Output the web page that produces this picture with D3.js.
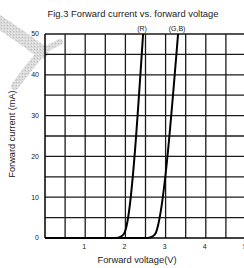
<!DOCTYPE html>
<html>
<head>
<meta charset="utf-8">
<script src="https://cdnjs.cloudflare.com/ajax/libs/d3/7.8.5/d3.min.js"></script>
<style>
  body { margin: 0; background: #fff; }
  text { font-family: "Liberation Sans", Arial, sans-serif; fill: #222; }
</style>
</head>
<body>
<div id="graphic"></div>
<script>
(function() {
  var W = 244, H = 268;
  var margin = { top: 34, left: 45, right: 0, bottom: 30 };

  /*** DATA ***/
  var title = "Fig.3 Forward current vs. forward voltage";
  var xTicks = [1, 2, 3, 4, 5];
  var yTicks = [0, 10, 20, 30, 40, 50];
  var xGrid = [0.5, 1, 1.5, 2, 2.5, 3, 3.5, 4, 4.5];
  var yGrid = [5, 10, 15, 20, 25, 30, 35, 40, 45, 50];
  // [voltage V, current mA]
  var redCurve = [[0, 0], [1.75, 0], [1.9, 0.4], [1.98, 1.3], [2.03, 3], [2.44, 50]];
  var gbCurve = [[0, 0], [2.55, 0], [2.68, 0.4], [2.76, 1.3], [2.81, 3], [3.31, 50]];
  var seriesNames = ["(R)", "(G,B)"];

  var svg = d3.select("#graphic").append("svg")
    .attr("width", W).attr("height", H);

  /*** WATERMARK (speckled grey) ***/
  var defs = svg.append("defs");
  var pat = defs.append("pattern").attr("id", "speckle")
    .attr("width", 3).attr("height", 3).attr("patternUnits", "userSpaceOnUse");
  pat.append("rect").attr("width", 3).attr("height", 3).attr("fill", "#dadada");
  pat.append("rect").attr("x", 1).attr("y", 1).attr("width", 1).attr("height", 1).attr("fill", "#bdbdbd");
  pat.append("rect").attr("x", 2).attr("y", 0).attr("width", 1).attr("height", 1).attr("fill", "#eeeeee");

  var wm = svg.append("g").attr("fill", "none").attr("stroke", "url(#speckle)")
    .attr("stroke-linecap", "round");
  wm.append("path").attr("d", "M-4,20 Q20,36 42,52").attr("stroke-width", 13);
  wm.append("path").attr("d", "M40,52 L60,42").attr("stroke-width", 6);
  wm.append("path").attr("d", "M42,52 Q28,68 15,86").attr("stroke-width", 8);

  var g = svg.append("g")
    .attr("transform", "translate(" + margin.left + "," + margin.top + ")");

  var x = d3.scaleLinear().domain([0, 5]).range([0, 201]);
  var y = d3.scaleLinear().domain([0, 50]).range([204, 0]);

  /*** GRID ***/
  g.selectAll(".vgrid").data(xGrid).enter().append("line")
    .attr("class", "vgrid")
    .attr("x1", function(d) { return x(d); }).attr("x2", function(d) { return x(d); })
    .attr("y1", y(0)).attr("y2", y(50))
    .attr("stroke", "#1a1a1a").attr("stroke-width", 1.3);

  g.selectAll(".hgrid").data(yGrid).enter().append("line")
    .attr("class", "hgrid")
    .attr("x1", x(0)).attr("x2", W)
    .attr("y1", function(d) { return y(d); }).attr("y2", function(d) { return y(d); })
    .attr("stroke", "#1a1a1a").attr("stroke-width", 1.3);

  // axis lines
  g.append("line")
    .attr("x1", x(0)).attr("x2", x(0)).attr("y1", y(0)).attr("y2", y(50))
    .attr("stroke", "#000").attr("stroke-width", 1.5);
  g.append("line")
    .attr("x1", x(0)).attr("x2", W).attr("y1", y(0)).attr("y2", y(0))
    .attr("stroke", "#000").attr("stroke-width", 1.5);

  /*** TICK LABELS ***/
  g.selectAll(".ylab").data(yTicks).enter().append("text")
    .attr("x", -6).attr("y", function(d) { return y(d); })
    .attr("dy", "0.35em").attr("text-anchor", "end")
    .attr("font-size", "7px")
    .text(function(d) { return d; });

  g.selectAll(".xlab").data(xTicks).enter().append("text")
    .attr("x", function(d) { return x(d) - 1; }).attr("y", y(0) + 11)
    .attr("text-anchor", "middle")
    .attr("font-size", "7px")
    .text(function(d) { return d; });

  /*** CURVES ***/
  var line = d3.line()
    .x(function(d) { return x(d[0]); })
    .y(function(d) { return y(d[1]); })
    .curve(d3.curveMonotoneX);

  [redCurve, gbCurve].forEach(function(c) {
    g.append("path").attr("d", line(c))
      .attr("fill", "none").attr("stroke", "#000").attr("stroke-width", 2);
  });

  g.selectAll(".sname").data([redCurve, gbCurve]).enter().append("text")
    .attr("x", function(d) { return x(d[d.length - 1][0]) - 1; })
    .attr("y", -3)
    .attr("text-anchor", "middle")
    .attr("font-size", "7px")
    .text(function(d, i) { return seriesNames[i]; });

  /*** TITLES ***/
  svg.append("text")
    .attr("x", 133).attr("y", 17)
    .attr("text-anchor", "middle")
    .attr("font-size", "9.4px")
    .text(title);

  svg.append("text")
    .attr("x", 137).attr("y", 263)
    .attr("text-anchor", "middle")
    .attr("font-size", "9.3px")
    .text("Forward voltage(V)");

  svg.append("text")
    .attr("transform", "translate(15,134) rotate(-90)")
    .attr("text-anchor", "middle")
    .attr("font-size", "9.2px")
    .text("Forward current (mA)");
})();
</script>
</body>
</html>
